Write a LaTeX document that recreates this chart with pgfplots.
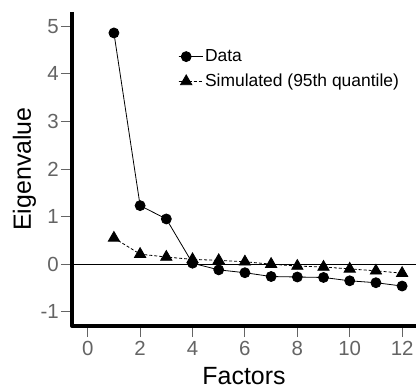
\documentclass[border=0pt]{standalone}
\usepackage{pgfplots}
\pgfplotsset{compat=1.18}
\usepackage{fontspec}
\setmainfont{Liberation Sans}
\definecolor{tickgray}{RGB}{100,100,100}
\begin{document}
\begin{tikzpicture}
\useasboundingbox (-72bp,-64bp) rectangle (344bp,326bp);
\begin{axis}[
  scale only axis,
  width=344bp, height=314bp,
  xmin=-0.6, xmax=12.53,
  ymin=-1.3, ymax=5.3,
  axis x line*=bottom, axis y line*=left,
  axis line style={draw=none},
  xtick={0,2,4,6,8,10,12},
  ytick={-1,0,1,2,3,4,5},
  tick align=outside,
  major tick length=11bp,
  tick style={tickgray, line width=0.9bp},
  xticklabel style={font=\fontsize{20.5}{20.5}\selectfont, text=tickgray, inner sep=1bp, yshift=-3bp},
  yticklabel style={font=\fontsize{20.5}{20.5}\selectfont, text=tickgray, inner sep=1bp, xshift=-1bp},
  /pgf/number format/assume math mode=true,
  xlabel={Factors}, ylabel={Eigenvalue},
  label style={font=\fontsize{25}{25}\selectfont},
  xlabel style={yshift=-7bp},
  ylabel style={yshift=0bp},
  clip=false,
  legend style={draw=none, fill=none, at={(axis cs:3.45,4.55)}, anchor=north west,
    font=\fontsize{17.5}{18}\selectfont, row sep=7bp, inner sep=0bp},
  legend cell align=left,
  legend image code/.code={
    \draw[#1] (0bp,0bp) -- (15bp,0bp);
    \draw[#1, only marks] plot coordinates {(7.5bp,0bp)};
    \path (0bp,0bp) -- (24bp,0bp);
  },
]
\addplot[black, forget plot, line width=0.8bp] coordinates {(-0.6,0) (12.53,0)};
\addplot[black, line width=0.8bp, mark=*, mark size=5bp] coordinates {
(1,4.86) (2,1.23) (3,0.95) (4,0.02) (5,-0.12) (6,-0.18) (7,-0.26) (8,-0.27) (9,-0.28) (10,-0.35) (11,-0.39) (12,-0.46)};
\addlegendentry{Data}
\addplot[black, line width=0.8bp, dash pattern=on 3bp off 2bp, mark=triangle*, mark size=6.5bp, mark options={solid}] coordinates {
(1,0.55) (2,0.21) (3,0.15) (4,0.10) (5,0.08) (6,0.05) (7,0.0) (8,-0.04) (9,-0.06) (10,-0.10) (11,-0.14) (12,-0.19)};
\addlegendentry{Simulated (95th quantile)}
\draw[black, line width=4bp, line join=round] (rel axis cs:0,1) -- (rel axis cs:0,0) -- (rel axis cs:1,0);
\end{axis}
\end{tikzpicture}
\end{document}
